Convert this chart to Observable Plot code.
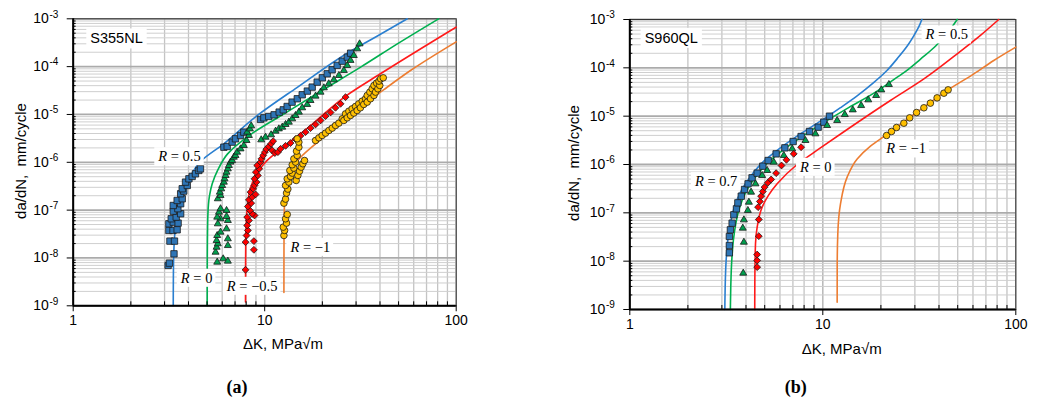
<!DOCTYPE html>
<html><head><meta charset="utf-8">
<script src="https://cdn.jsdelivr.net/npm/d3@7"></script>
<script src="https://cdn.jsdelivr.net/npm/@observablehq/plot@0.6"></script>
<style>
body{margin:0;background:#fff;}
#wrap{position:relative;width:1041px;height:399px;overflow:hidden;font-family:"Liberation Sans",Arial,sans-serif;color:#000;}
.panel{position:absolute;top:0;}
.ttl{position:absolute;font-size:15px;white-space:pre;transform:translate(-50%,-50%);}
.ttl.rot{transform:translate(-50%,-50%) rotate(-90deg);}
.cap{position:absolute;font-family:"Liberation Serif",serif;font-weight:bold;font-size:18px;transform:translate(-50%,-50%);}
</style></head><body><div id="wrap"></div>
<script>
// ---------- axes ----------
const yMajor = [1e-9,1e-8,1e-7,1e-6,1e-5,1e-4,1e-3];
const yMinor = yMajor.slice(0,-1).flatMap(d => [2,3,4,5,6,7,8,9].map(k => k*d));
const xMajor = [1,10,100];
const xMinor = [2,3,4,5,6,7,8,9,20,30,40,50,60,70,80,90];
const xTitle = "ΔK, MPa√m";
const yTitle = "da/dN,  mm/cycle";

// ---------- panel (a) S355NL : fitted curves [ΔK, da/dN] ----------
const a_R05_fit = [[3.33,1e-9],[3.335,4e-9],[3.35,1.2e-8],[3.4,3.5e-8],[3.5,8e-8],[3.7,2e-7],[4.0,4.2e-7],[4.63,1.05e-6],[6.12,2.44e-6],[9.3,1.0e-5],[14.8,3.7e-5],[27.5,2e-4],[40,4.7e-4],[55.5,1e-3]];
const a_R0_fit = [[5.01,1e-9],[5.012,5e-9],[5.02,2e-8],[5.05,8e-8],[5.15,2e-7],[5.32,3.55e-7],[5.7,7e-7],[6.4,1.5e-6],[8.5,3.9e-6],[12.7,1.05e-5],[20,3.2e-5],[32,1e-4],[50,3.1e-4],[81,1e-3]];
const a_Rm05_fit = [[7.94,1.2e-9],[7.945,5e-9],[7.96,2e-8],[8.02,6e-8],[8.15,1.4e-7],[8.45,3e-7],[9.3,6.7e-7],[10.3,1.1e-6],[13,2.3e-6],[17.5,6e-6],[26.4,2.4e-5],[40,7e-5],[100,6.7e-4]];
const a_Rm1_fit = [[12.6,1.9e-9],[12.605,1e-8],[12.62,5e-8],[12.7,1.5e-7],[13.1,4.9e-7],[14.0,8e-7],[15.4,1.28e-6],[20,3.2e-6],[30,1.2e-5],[41.9,3.3e-5],[57.7,8.3e-5],[100,3.3e-4]];

// panel (a) measured points
const a_R05_pts = [[3.13,6.97e-9],[3.18,7.8e-9],[3.36,1.22e-8],[3.20,2.25e-8],[3.38,2.25e-8],[3.16,3.76e-8],[3.32,3.76e-8],[3.49,3.88e-8],[3.16,5.18e-8],[3.33,5.6e-8],[3.53,5.35e-8],[3.25,6.6e-8],[3.45,7.14e-8],[3.64,8.4e-8],[3.33,9.5e-8],[3.52,1.07e-7],[3.33,1.25e-7],[3.64,1.36e-7],[3.49,1.59e-7],[3.71,1.73e-7],[3.64,2.2e-7],[3.78,2.5e-7],[3.71,2.8e-7],[3.94,3.28e-7],[3.86,3.85e-7],[4.02,4.52e-7],[4.18,5.06e-7],[4.35,5.75e-7],[4.53,6.75e-7],[4.62,7.3e-7],[6.12,2.07e-6],[6.37,2.14e-6],[6.76,2.64e-6],[7.04,3.1e-6],[7.48,3.64e-6],[7.78,4.27e-6],[9.51,7.86e-6],[9.9,8.5e-6],[10.5,9.08e-6],[11.2,9.84e-6],[11.9,1.12e-5],[12.5,1.25e-5],[13.1,1.47e-5],[13.9,1.81e-5],[14.8,2.13e-5],[15.7,2.58e-5],[16.7,3.08e-5],[17.7,3.73e-5],[18.8,4.74e-5],[20.0,5.84e-5],[21.2,7.08e-5],[22.5,8.59e-5],[23.9,1.06e-4],[25.4,1.30e-4],[27.0,1.58e-4],[28.1,1.91e-4]];
const a_R0_pts = [[5.65,8.18e-9],[6.07,9.6e-9],[6.42,8.59e-9],[5.54,1.32e-8],[5.61,1.68e-8],[5.69,1.98e-8],[5.61,2.32e-8],[6.42,1.82e-8],[6.42,2.52e-8],[5.65,2.95e-8],[5.88,3.47e-8],[6.32,4.07e-8],[5.69,5.18e-8],[6.42,6.08e-8],[5.88,6.59e-8],[6.32,7.38e-8],[5.65,7.14e-8],[5.77,9.08e-8],[6.32,9.84e-8],[5.88,1.07e-7],[5.69,1.73e-7],[5.88,2.03e-7],[5.83,2.38e-7],[5.93,2.79e-7],[6.0,3.28e-7],[6.12,3.85e-7],[6.17,4.52e-7],[6.25,5.31e-7],[6.32,6.23e-7],[6.42,7.31e-7],[6.5,8.59e-7],[6.63,1.01e-6],[6.76,1.09e-6],[6.9,1.28e-6],[7.04,1.39e-6],[7.18,1.63e-6],[7.48,1.91e-6],[7.78,2.25e-6],[8.04,2.86e-6],[8.27,3.64e-6],[8.1,4.27e-6],[8.37,5.0e-6],[8.5,5.8e-6],[9.59,2.95e-6],[10.1,3.36e-6],[10.8,3.76e-6],[11.4,4.48e-6],[11.86,5.0e-6],[12.35,5.43e-6],[12.85,6.18e-6],[13.37,6.91e-6],[13.92,8.12e-6],[14.49,9.53e-6],[15.08,1.12e-5],[15.7,1.38e-5],[16.67,1.62e-5],[17.35,1.96e-5],[18.43,2.42e-5],[19.57,2.93e-5],[20.37,3.61e-5],[21.6,4.38e-5],[22.97,5.31e-5],[24.4,6.54e-5],[25.9,8.32e-5],[26.97,1.06e-4],[28.06,1.35e-4],[29.2,1.71e-4],[30.4,2.36e-4],[31.3,3.0e-4]];
const a_Rm05_pts = [[7.94,5.66e-9],[8.78,1.48e-8],[8.78,2.25e-8],[7.94,2.14e-8],[8.04,2.95e-8],[8.17,3.76e-8],[8.10,4.78e-8],[8.27,6.08e-8],[8.10,7.14e-8],[8.85,7.74e-8],[8.61,8.38e-8],[8.37,9.84e-8],[8.17,1.19e-7],[8.50,1.40e-7],[8.27,1.64e-7],[8.61,1.87e-7],[8.96,2.13e-7],[8.44,2.38e-7],[8.71,2.79e-7],[8.85,3.28e-7],[9.06,3.85e-7],[8.85,4.52e-7],[9.21,5.31e-7],[8.99,6.23e-7],[9.36,7.31e-7],[9.14,8.59e-7],[9.51,1.01e-6],[9.62,1.18e-6],[9.82,1.39e-6],[10.02,1.63e-6],[10.2,1.88e-6],[10.5,2.14e-6],[10.8,2.44e-6],[11.07,2.77e-6],[10.94,1.77e-6],[11.3,1.56e-6],[11.72,1.63e-6],[12.1,1.91e-6],[12.85,2.21e-6],[13.64,2.52e-6],[14.49,3.05e-6],[15.38,3.58e-6],[16.34,4.27e-6],[17.35,5.18e-6],[18.43,6.18e-6],[19.57,7.5e-6],[20.78,9.23e-6],[22.07,1.10e-5],[23.43,1.38e-5],[24.89,1.67e-5],[26.43,2.30e-5]];
const a_Rm1_pts = [[12.6,2.95e-8],[12.7,3.76e-8],[12.5,4.41e-8],[13.0,5.35e-8],[12.85,6.59e-8],[13.11,8.11e-8],[12.6,1.40e-7],[12.85,1.70e-7],[13.0,2.27e-7],[13.21,2.75e-7],[12.85,3.28e-7],[13.37,3.85e-7],[13.11,4.52e-7],[13.64,5.06e-7],[13.92,5.94e-7],[13.53,6.75e-7],[14.2,7.55e-7],[13.92,8.87e-7],[14.49,1.01e-6],[14.2,1.18e-6],[14.78,1.39e-6],[14.66,1.71e-6],[15.08,2.07e-6],[15.08,2.64e-6],[14.78,3.1e-6],[14.6,4.17e-7],[14.9,5.31e-7],[15.2,6.53e-7],[15.5,7.92e-7],[15.82,9.31e-7],[16.14,1.09e-6],[18.43,2.86e-6],[19.19,3.25e-6],[19.96,3.64e-6],[20.78,4.07e-6],[21.64,4.63e-6],[22.52,5.18e-6],[23.44,5.89e-6],[24.4,6.59e-6],[25.4,8.12e-6],[25.9,7.5e-6],[26.43,1.03e-5],[26.97,8.51e-6],[27.5,1.17e-5],[28.06,9.53e-6],[28.6,1.31e-5],[29.2,1.07e-5],[29.8,1.47e-5],[30.4,1.21e-5],[31.0,1.67e-5],[31.6,1.38e-5],[32.3,1.90e-5],[32.9,1.62e-5],[33.6,2.13e-5],[34.3,1.81e-5],[34.3,2.5e-5],[35.7,2.13e-5],[35.4,2.93e-5],[37.2,2.5e-5],[36.4,3.44e-5],[37.9,2.93e-5],[37.2,4.04e-5],[39.0,3.44e-5],[38.4,4.52e-5],[39.9,4.04e-5],[39.5,4.98e-5],[40.3,5.57e-5],[41.6,5.84e-5]];

// ---------- panel (b) S960QL ----------
const b_R07_fit = [[3.107,1e-9],[3.12,2.9e-9],[3.156,1.03e-8],[3.22,2.68e-8],[3.32,5.92e-8],[3.46,1.21e-7],[3.745,2.68e-7],[4.22,5.64e-7],[4.95,1.17e-6],[6.03,2.21e-6],[7.66,4.31e-6],[9.73,7.88e-6],[12.35,1.5e-5],[15,2.6e-5],[18.4,5.0e-5],[21.5,8.8e-5],[24.3,1.55e-4],[27.5,2.9e-4],[29.6,4.6e-4],[31.5,7.2e-4],[32.6,1e-3]];
const b_R05_fit = [[3.32,1e-9],[3.335,2.9e-9],[3.375,1.03e-8],[3.44,2.68e-8],[3.54,5.92e-8],[3.69,1.21e-7],[3.99,2.68e-7],[4.5,5.64e-7],[5.28,1.17e-6],[6.45,2.21e-6],[8.2,4.31e-6],[10.4,7.88e-6],[13.2,1.4e-5],[18.4,3.0e-5],[23,5.5e-5],[27.4,9.0e-5],[32,1.5e-4],[37.6,2.6e-4],[42,4.2e-4],[45.9,6.4e-4],[49.7,1e-3]];
const b_R0_fit = [[4.44,1e-9],[4.445,4e-9],[4.48,2.29e-8],[4.57,5.05e-8],[4.85,1.31e-7],[5.8,3.98e-7],[7.36,1.0e-6],[9.72,2.2e-6],[13.37,5.3e-6],[22.4,2.11e-5],[33.4,5.9e-5],[49.7,1.95e-4],[65.6,4.7e-4],[81.6,1e-3]];
const b_Rm1_fit = [[11.87,1.42e-9],[11.875,7.5e-9],[11.96,3.68e-8],[12.35,1.53e-7],[13.37,5.47e-7],[15.07,1.3e-6],[17.66,2.4e-6],[21.1,3.98e-6],[30.6,1.19e-5],[44.6,3.5e-5],[60.6,7.5e-5],[76.9,1.42e-4],[100,2.68e-4]];

const b_R07_pts = [[3.28,1.49e-8],[3.28,2.11e-8],[3.28,3.24e-8],[3.32,4.45e-8],[3.39,6.11e-8],[3.46,9.1e-8],[3.57,1.21e-7],[3.63,1.61e-7],[3.78,2.21e-7],[3.93,3.04e-7],[4.10,3.98e-7],[4.30,5.3e-7],[4.57,6.62e-7],[4.89,9.24e-7],[5.21,1.21e-6],[5.73,1.66e-6],[6.36,2.21e-6],[7.02,2.99e-6],[7.72,3.79e-6],[8.53,4.82e-6],[9.46,5.92e-6],[10.12,7.51e-6],[10.83,1.0e-5]];
const b_R05_pts = [[3.87,5.65e-9],[3.90,2.47e-8],[3.85,4.82e-8],[3.90,7.16e-8],[4.09,1.12e-7],[4.14,1.66e-7],[4.25,2.68e-7],[4.48,3.98e-7],[4.85,5.92e-7],[5.15,7.52e-7],[5.57,1.12e-6],[6.28,1.54e-6],[6.94,2.11e-6],[8.13,3.14e-6],[9.16,4.31e-6],[10.53,6.41e-6],[11.87,8.13e-6],[13.0,1.08e-5],[14.3,1.35e-5],[15.8,1.66e-5],[17.2,2.18e-5],[18.9,2.68e-5],[20.1,3.5e-5],[22.0,4.52e-5]];
const b_R0_pts = [[4.57,7.52e-9],[4.57,1.03e-8],[4.57,1.37e-8],[4.66,3.29e-8],[4.66,7.28e-8],[4.62,1.31e-7],[4.72,1.72e-7],[4.79,2.21e-7],[4.89,2.76e-7],[4.99,3.4e-7],[5.19,4.18e-7],[5.40,4.9e-7],[5.73,6.62e-7],[6.11,9.54e-7],[6.48,1.25e-6],[7.07,1.66e-6],[7.72,2.28e-6]];
const b_Rm1_pts = [[21.4,3.98e-6],[22.7,4.82e-6],[24.1,5.83e-6],[26.3,7.16e-6],[28.2,9.24e-6],[30.6,1.19e-5],[33.4,1.49e-5],[36.1,1.86e-5],[39.1,2.39e-5],[42.4,2.99e-5],[44.6,3.5e-5]];

// labels [ΔK, da/dN, text]
const a_labels = [[3.59,1.32e-6,"R = 0.5"],[4.41,3.78e-9,"R = 0"],[8.6,2.57e-9,"R = −0.5"],[17.3,1.68e-8,"R = −1"]];
const b_labels = [[2.8,4.45e-7,"R = 0.7"],[9.2,8.8e-7,"R = 0"],[43.9,4.82e-4,"R = 0.5"],[27.0,2.11e-6,"R = −1"]];
const a_tag = [[1.683,3.82e-4,"S355NL"]];
const b_tag = [[1.64,4.1e-4,"S960QL"]];

// styles
const C = {blue:"#2A7FD0", green:"#00B050", red:"#FF1A1A", orange:"#ED7D31",
  fBlue:"#2E75B6", fGreen:"#00A04E", fRed:"#FF0000", fYellow:"#FFC000"};
const LABEL_FONT = "Liberation Serif";
const TAG_FONT = "Liberation Sans, sans-serif";

function panel(o){
  const series = o.series;
  const marks = [
    Plot.ruleX(xMinor, {stroke:"#c4c4c4", strokeWidth:1.3}),
    Plot.ruleX(xMajor, {stroke:"#b8b8b8", strokeWidth:1.5}),
    Plot.ruleY(yMinor, {stroke:"#cfcfcf", strokeWidth:1}),
    Plot.ruleY(yMajor, {stroke:"#ababab", strokeWidth:1.8}),
    Plot.frame({stroke:"#333", strokeWidth:1}),
    ...series.map(s => Plot.line(s.fit, {x:d=>d[0], y:d=>d[1], curve:"monotone-y", stroke:s.line, strokeWidth:1.6})),
    ...series.map(s => Plot.dot(s.pts, {x:d=>d[0], y:d=>d[1], symbol:s.symbol, r:s.r, fill:s.fill, stroke:"#1a1a1a", strokeWidth:0.8})),
    Plot.ruleX([1], {stroke:"#000", strokeWidth:2}),
    Plot.ruleY([1e-9], {stroke:"#000", strokeWidth:2}),
    // ticks
    Plot.ruleY(yMajor, {x1:10**(-6/192), x2:1, stroke:"#000", strokeWidth:1}),
    Plot.ruleY(yMinor, {x1:1, x2:10**(3/192), stroke:"#000", strokeWidth:1}),
    Plot.ruleX(xMajor, {y1:1e-9*10**(-6/48), y2:1e-9, stroke:"#000", strokeWidth:1}),
    Plot.ruleX(xMinor, {y1:1e-9, y2:1e-9*10**(4/48), stroke:"#000", strokeWidth:1}),
    // tick labels
    Plot.text(yMajor, {y:d=>d, frameAnchor:"left", dx:-24.4, textAnchor:"end", text:()=>"10", fontSize:14}),
    Plot.text(yMajor, {y:d=>d, frameAnchor:"left", dx:-23.8, dy:-4.5, textAnchor:"start", text:d=>String(Math.round(Math.log10(d))), fontSize:10}),
    Plot.text(xMajor, {x:d=>d, frameAnchor:"bottom", dy:19, text:d=>String(d), fontSize:14}),
    // annotations
    Plot.text(o.labels, {x:d=>d[0], y:d=>d[1], text:d=>d[2], fontSize:14.5, fontFamily:LABEL_FONT}),
    Plot.text(o.tag, {x:d=>d[0], y:d=>d[1], text:d=>d[2], fontSize:14.5, fontFamily:TAG_FONT})
  ];
  const svg = Plot.plot({
    width:o.width, height:o.height,
    marginLeft:o.ml, marginRight:o.mr, marginTop:o.mt, marginBottom:o.mb,
    x:{type:"log", domain:[1,100], axis:null},
    y:{type:"log", domain:[1e-9,1e-3], axis:null},
    style:{fontFamily:"Liberation Sans, Arial, sans-serif", background:"transparent", overflow:"visible"},
    marks
  });
  svg.classList.add("panel");
  svg.style.left = o.left + "px";
  document.getElementById("wrap").appendChild(svg);
  const NS = "http://www.w3.org/2000/svg";
  function boxes(font, px, py, italic){
    svg.querySelectorAll(`g[font-family="${font}"] text`).forEach(t => {
      if (italic){
        const s = t.textContent;
        t.textContent = "";
        const a = document.createElementNS(NS,"tspan");
        a.setAttribute("font-style","italic");
        a.textContent = s.slice(0,1);
        const b = document.createElementNS(NS,"tspan"); b.textContent = s.slice(1);
        t.appendChild(a); t.appendChild(b);
      }
      const bb = t.getBBox();
      const r = document.createElementNS(NS,"rect");
      r.setAttribute("x", bb.x - px); r.setAttribute("y", bb.y - py);
      r.setAttribute("width", bb.width + 2*px); r.setAttribute("height", bb.height + 2*py);
      r.setAttribute("fill", "#fff");
      const tr = t.getAttribute("transform"); if (tr) r.setAttribute("transform", tr);
      t.parentNode.insertBefore(r, t);
    });
  }
  boxes(LABEL_FONT, 3, 1, true);
  boxes(TAG_FONT, 4, 2, false);
  return svg;
}

panel({left:0, width:520, height:360, ml:72.7, mr:64.3, mt:18.3, mb:54.7,
  labels:a_labels, tag:a_tag,
  series:[
    {fit:a_R05_fit, pts:a_R05_pts, line:C.blue, symbol:"square", r:3.6, fill:C.fBlue},
    {fit:a_R0_fit, pts:a_R0_pts, line:C.green, symbol:"triangle", r:2.6, fill:C.fGreen},
    {fit:a_Rm05_fit, pts:a_Rm05_pts, line:C.red, symbol:"diamond2", r:3.1, fill:C.fRed},
    {fit:a_Rm1_fit, pts:a_Rm1_pts, line:C.orange, symbol:"circle", r:3.3, fill:C.fYellow}
  ]});
panel({left:520, width:521, height:360, ml:109.3, mr:25.7, mt:19, mb:51,
  labels:b_labels, tag:b_tag,
  series:[
    {fit:b_R07_fit, pts:b_R07_pts, line:C.blue, symbol:"square", r:3.6, fill:C.fBlue},
    {fit:b_R05_fit, pts:b_R05_pts, line:C.green, symbol:"triangle", r:2.6, fill:C.fGreen},
    {fit:b_R0_fit, pts:b_R0_pts, line:C.red, symbol:"diamond2", r:3.1, fill:C.fRed},
    {fit:b_Rm1_fit, pts:b_Rm1_pts, line:C.orange, symbol:"circle", r:3.3, fill:C.fYellow}
  ]});

// titles & captions
const wrap = document.getElementById("wrap");
function addDiv(cls, text, x, y){
  const d = document.createElement("div"); d.className = cls; d.textContent = text;
  d.style.left = x + "px"; d.style.top = y + "px"; wrap.appendChild(d);
}
addDiv("ttl rot", yTitle, 20, 160.7);
addDiv("ttl rot", yTitle, 573.3, 163.3);
addDiv("ttl", xTitle, 283, 343);
addDiv("ttl", xTitle, 841.7, 348);
addDiv("cap", "(a)", 237, 387);
addDiv("cap", "(b)", 795.7, 387);
</script></body></html>
